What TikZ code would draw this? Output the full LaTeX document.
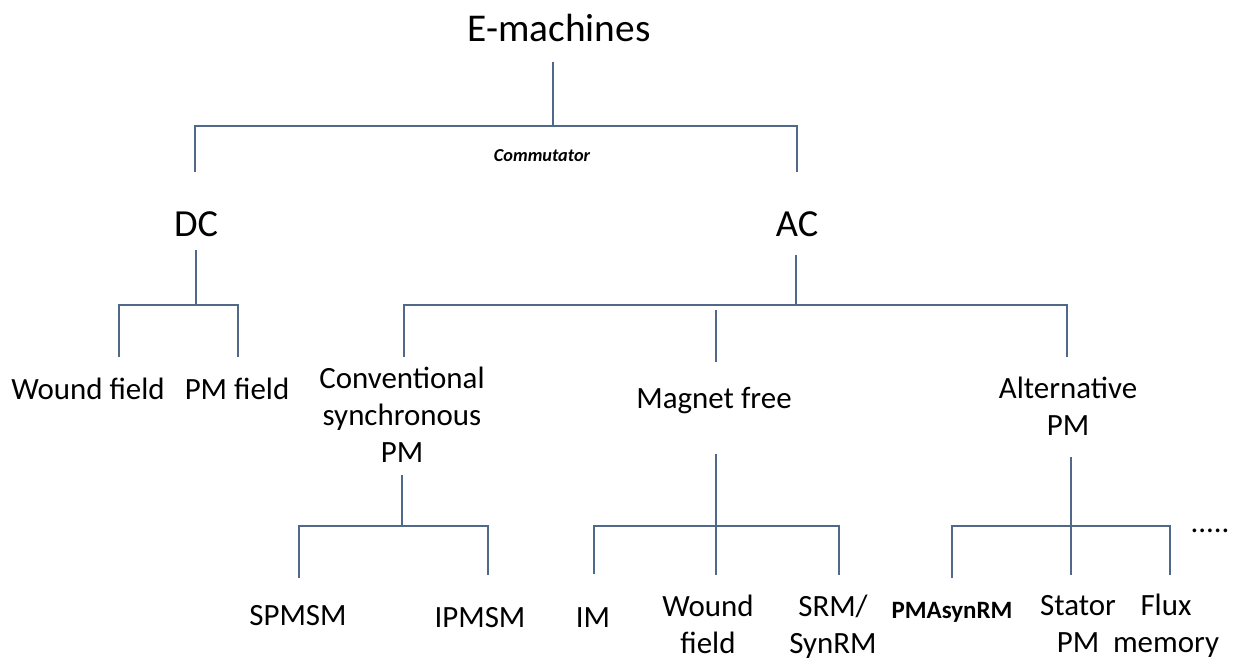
\documentclass[tikz,border=0pt]{standalone}
\usepackage{fontspec}
\setmainfont{Carlito}
\definecolor{branch}{RGB}{80,104,138}
\tikzset{
  tree/.style={draw=branch,line width=0.85pt},
  big/.style={font=\fontsize{21.8}{26}\selectfont,inner sep=0pt,anchor=base},
  lbl/.style={font=\fontsize{17.6}{21.05}\selectfont,inner sep=0pt,anchor=base,align=center},
  note/.style={font=\fontsize{10.4}{13}\selectfont\bfseries\itshape,inner sep=0pt,anchor=base},
}
\begin{document}
\begin{tikzpicture}[x=0.02cm,y=-0.02cm]
\useasboundingbox (0,0) rectangle (1239,662);
%=======level 0=============
\node[big,font=\fontsize{22.4}{26}\selectfont] (emach) at (559,42) {E-machines};
\node[note] (comm) at (542,162) {Commutator};
\coordinate (emach-b) at (553,62);
\coordinate (j0) at (553,126);
\coordinate (dc-t) at (195,172);
\coordinate (ac-t) at (797,172);
\draw[tree] (emach-b) -- (j0);
\draw[tree] (dc-t) -- (dc-t |- j0) -- (ac-t |- j0) -- (ac-t);
%=======DC=============
\node[big] (dc) at (196,236) {DC};
\node[lbl] (wound) at (88,399) {Wound field};
\node[lbl] (pmfield) at (237,399) {PM field};
\coordinate (dc-b) at (196,250);
\coordinate (dc-j) at (196,305);
\coordinate (wound-t) at (119,357);
\coordinate (pmfield-t) at (238,357);
\draw[tree] (dc-b) -- (dc-j);
\draw[tree] (wound-t) -- (wound-t |- dc-j) -- (pmfield-t |- dc-j) -- (pmfield-t);
%=======AC=============
\node[big] (ac) at (797,236) {AC};
\node[lbl] (conv) at (402,462) {Conventional\\synchronous\\PM};
\node[lbl] (free) at (714,408) {Magnet free};
\node[lbl] (alt) at (1068,435) {Alternative\\PM};
\coordinate (ac-b) at (796,255);
\coordinate (ac-j) at (796,305);
\coordinate (conv-t) at (404,357);
\coordinate (free-s) at (716,310);
\coordinate (free-t) at (716,362);
\coordinate (alt-t) at (1067,357);
\draw[tree] (ac-b) -- (ac-j);
\draw[tree] (conv-t) -- (conv-t |- ac-j) -- (alt-t |- ac-j) -- (alt-t);
\draw[tree] (free-s) -- (free-t);
%=======conventional synchronous PM=============
\node[lbl] (spmsm) at (298,625) {SPMSM};
\node[lbl] (ipmsm) at (480,627) {IPMSM};
\coordinate (conv-b) at (402,475);
\coordinate (conv-j) at (402,526);
\coordinate (spmsm-t) at (299,578);
\coordinate (ipmsm-t) at (488,575);
\draw[tree] (conv-b) -- (conv-j);
\draw[tree] (spmsm-t) -- (spmsm-t |- conv-j) -- (ipmsm-t |- conv-j) -- (ipmsm-t);
%=======magnet free=============
\node[lbl] (im) at (593,627) {IM};
\node[lbl] (woundb) at (708,653) {Wound\\field};
\node[lbl] (srm) at (833,653) {SRM/\\SynRM};
\coordinate (free-b) at (716,454);
\coordinate (free-j) at (716,526);
\coordinate (im-t) at (594,574);
\coordinate (woundb-t) at (716,575);
\coordinate (srm-t) at (839,575);
\draw[tree] (free-b) -- (woundb-t);
\draw[tree] (im-t) -- (im-t |- free-j) -- (srm-t |- free-j) -- (srm-t);
%=======alternative PM=============
\node[lbl,font=\fontsize{14.2}{17}\selectfont\bfseries] (pmasyn) at (952,618) {PMAsynRM};
\node[lbl] (stator) at (1078,652) {Stator\\PM};
\node[lbl] (flux) at (1166,652) {Flux\\memory};
\node[lbl] (more) at (1210,532) {.....};
\coordinate (alt-b) at (1071,457);
\coordinate (alt-j) at (1071,526);
\coordinate (pmasyn-t) at (952,578);
\coordinate (stator-t) at (1071,575);
\coordinate (flux-t) at (1170,575);
\draw[tree] (alt-b) -- (stator-t);
\draw[tree] (pmasyn-t) -- (pmasyn-t |- alt-j) -- (flux-t |- alt-j) -- (flux-t);
\end{tikzpicture}
\end{document}
